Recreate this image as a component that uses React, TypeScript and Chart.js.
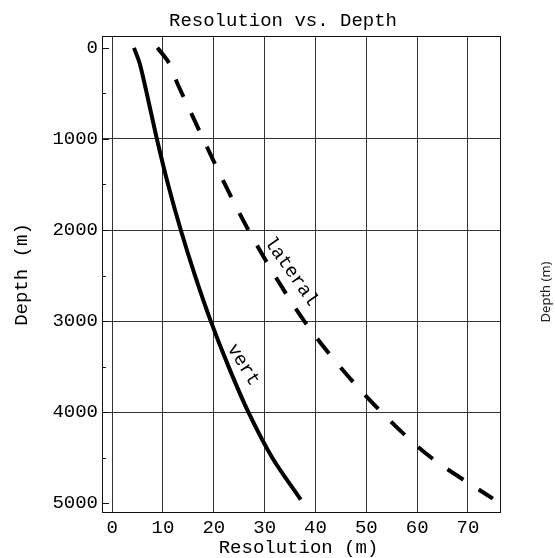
import { useEffect, useRef } from "react";
import { Chart, registerables } from "chart.js";

Chart.register(...registerables);

// Depth (m) and resolution (m) samples for each curve
const vertDepth = [0, 150, 400, 700, 1000, 1500, 2000, 2500, 3000, 3500, 4000, 4500, 4960];
const vertRes = [4.3, 5.3, 6.4, 7.6, 8.8, 11.0, 13.5, 16.3, 19.4, 22.9, 26.8, 31.5, 37.1];
const latDepth = [0, 150, 400, 700, 1000, 1500, 2000, 2500, 3000, 3500, 4000, 4500, 4950];
const latRes = [8.9, 11.0, 12.9, 15.4, 17.9, 22.2, 26.8, 32.0, 37.8, 44.8, 53.0, 62.8, 74.9];

const xTicks = [0, 10, 20, 30, 40, 50, 60, 70];
const yTicks = [0, 1000, 2000, 3000, 4000, 5000];
const yMinorTicks = [500, 1500, 2500, 3500, 4500];
const yGridValues = [1000, 2000, 3000, 4000];

const MONO = "'Liberation Mono', 'DejaVu Sans Mono', monospace";
const INK = "#111";

const framePlugin = {
  id: "frameAndLabels",
  afterDatasetsDraw(chart: any) {
    const { ctx, chartArea: a, scales } = chart;
    const xs = scales.x;
    const ys = scales.y;
    ctx.save();
    // frame
    ctx.strokeStyle = INK;
    ctx.lineWidth = 1;
    ctx.strokeRect(a.left + 0.5, a.top + 0.5, a.right - a.left - 1, a.bottom - a.top - 1);
    // inward ticks on the left frame edge
    ctx.beginPath();
    for (const v of yTicks) {
      const p = Math.round(ys.getPixelForValue(v)) + 0.5;
      ctx.moveTo(a.left, p);
      ctx.lineTo(a.left + 7, p);
    }
    for (const v of yMinorTicks) {
      const p = Math.round(ys.getPixelForValue(v)) + 0.5;
      ctx.moveTo(a.left, p);
      ctx.lineTo(a.left + 4, p);
    }
    ctx.stroke();

    ctx.fillStyle = "#000";
    ctx.font = `19px ${MONO}`;
    ctx.textAlign = "center";
    ctx.textBaseline = "middle";
    ctx.fillText("Resolution vs. Depth", 283, 21);
    ctx.fillText("Resolution (m)", 298.5, 548);

    ctx.save();
    ctx.translate(22, (a.top + a.bottom) / 2);
    ctx.rotate(-Math.PI / 2);
    ctx.fillText("Depth (m)", 0, 0);
    ctx.restore();

    // curve labels
    const drawRot = (text: string, x: number, y: number, ang: number) => {
      ctx.save();
      ctx.translate(xs.getPixelForValue(x), ys.getPixelForValue(y));
      ctx.rotate((ang * Math.PI) / 180);
      ctx.fillText(text, 0, 0);
      ctx.restore();
    };
    drawRot("lateral", 35.2, 2457, 55);
    drawRot("vert", 25.8, 3480, 58);

    // side label
    ctx.save();
    ctx.font = "13px 'Noto Sans', 'DejaVu Sans', sans-serif";
    ctx.fillStyle = "#222";
    ctx.translate(546, 292);
    ctx.rotate(-Math.PI / 2);
    ctx.fillText("Depth (m)", 0, 0);
    ctx.restore();

    ctx.restore();
  },
};

export default function App() {
  const ref = useRef<HTMLCanvasElement | null>(null);

  useEffect(() => {
    if (!ref.current) return;
    const chart = new Chart(ref.current, {
      type: "scatter",
      data: {
        datasets: [
          {
            label: "vert",
            data: vertDepth.map((d, i) => ({ x: vertRes[i], y: d })),
            showLine: true,
            borderColor: "#000",
            borderWidth: 4,
            pointRadius: 0,
            cubicInterpolationMode: "monotone",
          },
          {
            label: "lateral",
            data: latDepth.map((d, i) => ({ x: latRes[i], y: d })),
            showLine: true,
            borderColor: "#000",
            borderWidth: 4,
            borderDash: [19, 18],
            pointRadius: 0,
            cubicInterpolationMode: "monotone",
          },
        ],
      },
      options: {
        animation: false,
        responsive: false,
        maintainAspectRatio: false,
        indexAxis: "y",
        layout: { padding: { left: 0, right: 54, top: 36, bottom: 0 } },
        plugins: {
          legend: { display: false },
          title: { display: false },
          tooltip: { enabled: false },
        },
        scales: {
          x: {
            type: "linear",
            min: -2,
            max: 76.5,
            afterBuildTicks: (s: any) => {
              s.ticks = xTicks.map((v) => ({ value: v }));
            },
            afterFit: (s: any) => {
              s.height = 45;
            },
            ticks: {
              color: "#000",
              font: { family: MONO, size: 19 },
              padding: 4,
              maxRotation: 0,
              callback: (v: any) => String(v),
            },
            grid: { color: "#333", lineWidth: 1, drawTicks: false },
            border: { display: false },
          },
          y: {
            type: "linear",
            reverse: true,
            min: -130,
            max: 5107,
            afterBuildTicks: (s: any) => {
              s.ticks = yTicks.map((v) => ({ value: v }));
            },
            afterFit: (s: any) => {
              s.width = 102;
            },
            ticks: {
              color: "#000",
              font: { family: MONO, size: 19 },
              padding: 4,
              callback: (v: any) => String(v),
            },
            grid: {
              color: (c: any) =>
                c.tick && yGridValues.includes(c.tick.value) ? "#333" : "rgba(0,0,0,0)",
              lineWidth: 1,
              drawTicks: false,
            },
            border: { display: false },
          },
        },
      },
      plugins: [framePlugin],
    });
    return () => chart.destroy();
  }, []);

  return (
    <div style={{ position: "fixed", left: 0, top: 0, width: 555, height: 558, background: "#fff" }}>
      <canvas ref={ref} width={555} height={558} style={{ width: 555, height: 558 }} />
    </div>
  );
}
